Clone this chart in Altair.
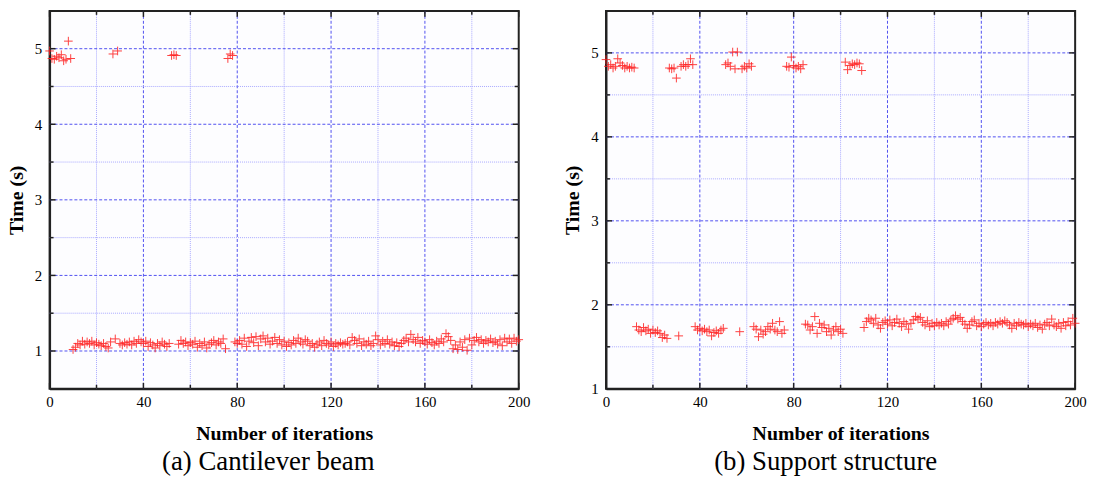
import altair as alt
import pandas as pd

FONT = "Liberation Serif"

# ---------------- data ----------------
iterations = list(range(0, 201))

time_a = [
    4.97, 4.87, 4.86, 4.90, 4.88, 4.92, 4.84, 4.86, 5.10, 4.87,
    1.02, 1.05, 1.10, 1.08, 1.13, 1.09, 1.12, 1.10, 1.13, 1.08,
    1.11, 1.09, 1.07, 1.10, 1.06, 1.04, 1.12, 4.93, 1.16, 4.97,
    1.10, 1.08, 1.11, 1.09, 1.12, 1.08, 1.13, 1.10, 1.15, 1.12,
    1.10, 1.13, 1.06, 1.11, 1.08, 1.04, 1.10, 1.07, 1.12, 1.09,
    1.06, 1.10, 4.91, 4.92, 4.91, 1.09, 1.14, 1.10, 1.12, 1.07,
    1.11, 1.09, 1.13, 1.05, 1.10, 1.07, 1.12, 1.04, 1.09, 1.11,
    1.14, 1.08, 1.12, 1.10, 1.16, 1.03, 4.87, 4.93, 4.91, 1.12,
    1.10, 1.14, 1.09, 1.17, 1.06, 1.13, 1.18, 1.11, 1.19, 1.07,
    1.16, 1.20, 1.12, 1.17, 1.09, 1.13, 1.18, 1.10, 1.15, 1.08,
    1.13, 1.06, 1.11, 1.08, 1.14, 1.10, 1.17, 1.12, 1.09, 1.15,
    1.13, 1.07, 1.10, 1.05, 1.09, 1.12, 1.07, 1.14, 1.10, 1.08,
    1.12, 1.06, 1.10, 1.08, 1.11, 1.09, 1.10, 1.12, 1.08, 1.18,
    1.14, 1.10, 1.16, 1.07, 1.12, 1.09, 1.13, 1.07, 1.10, 1.20,
    1.15, 1.08, 1.13, 1.10, 1.15, 1.09, 1.12, 1.07, 1.11, 1.06,
    1.10, 1.14, 1.17, 1.12, 1.22, 1.15, 1.12, 1.18, 1.10, 1.14,
    1.12, 1.09, 1.15, 1.11, 1.08, 1.13, 1.10, 1.16, 1.12, 1.23,
    1.19, 1.14, 1.03, 1.08, 1.02, 1.12, 1.05, 1.15, 1.01, 1.17,
    1.08, 1.14, 1.18, 1.12, 1.15, 1.10, 1.14, 1.12, 1.16, 1.11,
    1.13, 1.09, 1.15, 1.07, 1.17, 1.12, 1.16, 1.10, 1.17, 1.13,
    1.15,
]

time_b = [
    4.92, 4.84, 4.86, 4.82, 4.84, 4.93, 4.88, 4.85, 4.82, 4.84,
    4.82, 4.83, 4.82, 1.74, 1.70, 1.68, 1.73, 1.69, 1.71, 1.66,
    1.70, 1.67, 1.69, 1.66, 1.61, 1.64, 1.60, 4.82, 4.81, 4.82,
    4.70, 1.63, 4.84, 4.86, 4.84, 4.86, 4.93, 4.86, 1.74, 1.70,
    1.72, 1.69, 1.71, 1.68, 1.70, 1.63, 1.67, 1.69, 1.66, 1.70,
    1.72, 4.86, 4.88, 4.84, 5.01, 4.81, 5.01, 1.68, 4.81, 4.84,
    4.82, 4.87, 4.84, 1.74, 1.71, 1.62, 1.70, 1.65, 1.68, 1.74,
    1.71, 1.78, 1.70, 1.68, 1.80, 1.66, 1.70, 4.84, 4.83, 4.95,
    4.85, 4.82, 4.84, 4.81, 4.86, 1.77, 1.76, 1.70, 1.74, 1.86,
    1.66, 1.78, 1.73, 1.76, 1.68, 1.72, 1.64, 1.70, 1.74, 1.68,
    1.71, 1.66, 4.89, 4.80, 4.85, 4.87, 4.86, 4.88, 4.87, 4.79,
    1.73, 1.80, 1.84, 1.82, 1.78, 1.84, 1.76, 1.72, 1.79, 1.81,
    1.77, 1.82, 1.75, 1.79, 1.83, 1.78, 1.74, 1.80, 1.77, 1.71,
    1.78, 1.82, 1.86, 1.83, 1.85, 1.79, 1.76, 1.81, 1.74, 1.78,
    1.75, 1.79, 1.76, 1.78, 1.75, 1.80, 1.77, 1.82, 1.84, 1.87,
    1.83, 1.85, 1.80, 1.77, 1.72, 1.76, 1.80, 1.82, 1.75, 1.78,
    1.74, 1.77, 1.79, 1.76, 1.78, 1.75, 1.79, 1.77, 1.80, 1.78,
    1.81, 1.79, 1.76, 1.72, 1.78, 1.75, 1.79, 1.77, 1.76, 1.78,
    1.74, 1.77, 1.75, 1.78, 1.73, 1.76, 1.71, 1.77, 1.79, 1.75,
    1.83, 1.76, 1.74, 1.78, 1.72, 1.79, 1.75, 1.80, 1.76, 1.84,
    1.78,
]

x_major = [0, 40, 80, 120, 160, 200]
x_minor = [20, 60, 100, 140, 180]
y_major = [1, 2, 3, 4, 5]
ya_minor = [1.5, 2.5, 3.5, 4.5]
yb_minor = [1.5, 2.5, 3.5, 4.5]

W, H = 473, 381
RED = "#ff1f1f"
GRID_MAJOR = "#5050f0"
GRID_MINOR = "#a9a9ff"
TICK = "#222222"
PLUS = "M-1,0L1,0M0,-1L0,1"

X_TITLE = "Number of iterations"
Y_TITLE = "Time (s)"
X_AXIS = alt.Axis(values=x_major, grid=False, ticks=False, labelFlush=False,
                  labelPadding=6, titlePadding=14)
Y_AXIS = alt.Axis(values=y_major, grid=False, ticks=False,
                  labelPadding=8, titlePadding=8)


def panel(times, y_domain, y_minor, caption, cap_dx):
    xs = alt.Scale(domain=[0, 200], nice=False, zero=False)
    ys = alt.Scale(domain=y_domain, nice=False, zero=False)

    def X(field):
        return alt.X(field, scale=xs, title=X_TITLE, axis=X_AXIS)

    def Y(field):
        return alt.Y(field, scale=ys, title=Y_TITLE, axis=Y_AXIS)

    pts = pd.DataFrame({"it": iterations, "t": times})
    xmaj = pd.DataFrame({"v": [v for v in x_major if 0 < v < 200]})
    xmaj_all = pd.DataFrame({"v": x_major})
    xmin = pd.DataFrame({"v": x_minor})
    ymaj = pd.DataFrame({"v": [v for v in y_major if v > y_domain[0]]})
    ymaj_all = pd.DataFrame({"v": y_major})
    ymin = pd.DataFrame({"v": y_minor})

    # grid lines
    gx_major = alt.Chart(xmaj).mark_rule(
        color=GRID_MAJOR, strokeWidth=1, strokeDash=[3, 2]
    ).encode(x=X("v:Q"), y=alt.value(0), y2=alt.value(H))
    gx_minor = alt.Chart(xmin).mark_rule(
        color=GRID_MINOR, strokeWidth=1, strokeDash=[1, 1]
    ).encode(x=X("v:Q"), y=alt.value(0), y2=alt.value(H))
    gy_major = alt.Chart(ymaj).mark_rule(
        color=GRID_MAJOR, strokeWidth=1, strokeDash=[3, 2]
    ).encode(y=Y("v:Q"), x=alt.value(0), x2=alt.value(W))
    gy_minor = alt.Chart(ymin).mark_rule(
        color=GRID_MINOR, strokeWidth=1, strokeDash=[1, 1]
    ).encode(y=Y("v:Q"), x=alt.value(0), x2=alt.value(W))

    # inward ticks on all four sides
    def xticks(df, L):
        return [
            alt.Chart(df).mark_rule(color=TICK, strokeWidth=1.5).encode(
                x=X("v:Q"), y=alt.value(H), y2=alt.value(H - L)),
            alt.Chart(df).mark_rule(color=TICK, strokeWidth=1.5).encode(
                x=X("v:Q"), y=alt.value(0), y2=alt.value(L)),
        ]

    def yticks(df, L):
        return [
            alt.Chart(df).mark_rule(color=TICK, strokeWidth=1.5).encode(
                y=Y("v:Q"), x=alt.value(0), x2=alt.value(L)),
            alt.Chart(df).mark_rule(color=TICK, strokeWidth=1.5).encode(
                y=Y("v:Q"), x=alt.value(W), x2=alt.value(W - L)),
        ]

    ticks = xticks(xmaj_all, 6) + xticks(xmin, 4) + yticks(ymaj_all, 6) + yticks(ymin, 4)

    points = alt.Chart(pts).mark_point(
        shape=PLUS, filled=False, color=RED,
        strokeWidth=1, size=76, opacity=0.85,
    ).encode(x=X("it:Q"), y=Y("t:Q"))

    return alt.layer(gx_minor, gx_major, gy_minor, gy_major, points, *ticks).properties(
        width=W, height=H,
        title=alt.TitleParams(caption, orient="bottom", font=FONT, fontSize=27,
                              fontWeight="normal", color="black", frame="group",
                              anchor="middle", dx=cap_dx, offset=6),
    )


left = panel(time_a, [0.5, 5.5], ya_minor, "(a) Cantilever beam", -16)
right = panel(time_b, [1, 5.5], yb_minor, "(b) Support structure", -15)

chart = alt.hconcat(left, right, spacing=30).properties(
    padding={"left": 5, "top": 7, "right": 5, "bottom": 5},
    background="white",
).configure_view(
    stroke="#222", strokeWidth=2, fill="#fdfdff"
).configure_axis(
    labelFont=FONT, titleFont=FONT, labelFontSize=15, titleFontSize=20,
    labelColor="black", titleColor="black", titleFontWeight="bold",
    domainColor="#222", domainWidth=2,
)

chart.save("out.html", embed_options={"renderer": "svg", "actions": False})
